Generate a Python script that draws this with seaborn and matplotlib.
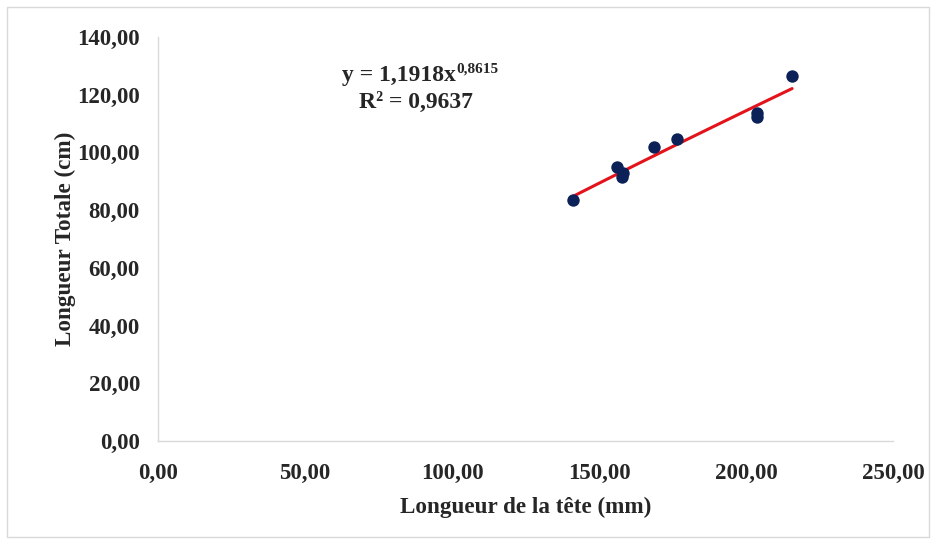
import numpy as np
import pandas as pd
import matplotlib
matplotlib.use("Agg")
import matplotlib.pyplot as plt
import seaborn as sns
from matplotlib.patches import Rectangle

# Data
head_length_mm = [141.2, 156.1, 157.7, 158.3, 168.8, 176.4, 203.6, 203.9, 215.7]
total_length_cm = [83.5, 94.9, 91.6, 93.0, 102.0, 104.6, 113.8, 112.3, 126.5]
fit_coef = 1.1918
fit_exp = 0.8615
x_ticks = [0, 50, 100, 150, 200, 250]
y_ticks = [0, 20, 40, 60, 80, 100, 120, 140]

sns.set_theme(style="white")
plt.rcParams['font.family'] = ['Liberation Serif', 'DejaVu Serif']

df = pd.DataFrame({"x": head_length_mm, "y": total_length_cm})

fig = plt.figure(figsize=(9.36, 5.43), dpi=100)
ax = fig.add_axes([0.1688, 0.1878, 0.954 - 0.1688, 0.9319 - 0.1878])

# trend line (power fit)
xs = np.linspace(min(head_length_mm), max(head_length_mm), 100)
line_df = pd.DataFrame({"x": xs, "y": fit_coef * xs ** fit_exp})
sns.lineplot(data=line_df, x="x", y="y", ax=ax, color="#e3131b", linewidth=2.2, zorder=2)
sns.scatterplot(data=df, x="x", y="y", ax=ax, color="#0b2158", s=80, edgecolor="#0b2158",
                linewidth=0, zorder=3)

ax.set_xlim(0, 250)
ax.set_ylim(0, 140)
ax.set_xticks(x_ticks)
ax.set_yticks(y_ticks)
fmt = lambda v: f"{v:.2f}".replace(".", ",")
ax.set_xticklabels([fmt(v) for v in x_ticks])
ax.set_yticklabels([fmt(v) for v in y_ticks])
ax.tick_params(axis='both', length=0, labelsize=16.5, colors="#262626")
ax.tick_params(axis='y', pad=13)
ax.tick_params(axis='x', pad=16)
for lab in ax.get_xticklabels() + ax.get_yticklabels():
    lab.set_fontweight('bold')

for s in ['top', 'right']:
    ax.spines[s].set_visible(False)
for s in ['left', 'bottom']:
    ax.spines[s].set_color("#d9d9d9")
    ax.spines[s].set_linewidth(1.0)

ax.set_xlabel("Longueur de la tête (mm)", fontsize=16.7, fontweight='bold', color="#262626", labelpad=9)
ax.set_ylabel("Longueur Totale (cm)", fontsize=16.7, fontweight='bold', color="#262626", labelpad=1)

# equation annotation
fig.text(0.487, 0.861, "y = 1,1918x", ha='right', va='center', fontsize=17, fontweight='bold', color="#262626")
fig.text(0.488, 0.872, "0,8615", ha='left', va='center', fontsize=11, fontweight='bold', color="#262626")
fig.text(0.444, 0.812, "R² = 0,9637", ha='center', va='center', fontsize=17, fontweight='bold', color="#262626")

# outer chart border
fig.patches.append(Rectangle((7/936, 6/543), 1 - 14/936, 1 - 13/543, transform=fig.transFigure,
                             fill=False, edgecolor="#d9d9d9", linewidth=1.0))

fig.savefig("out.png", dpi=100)
